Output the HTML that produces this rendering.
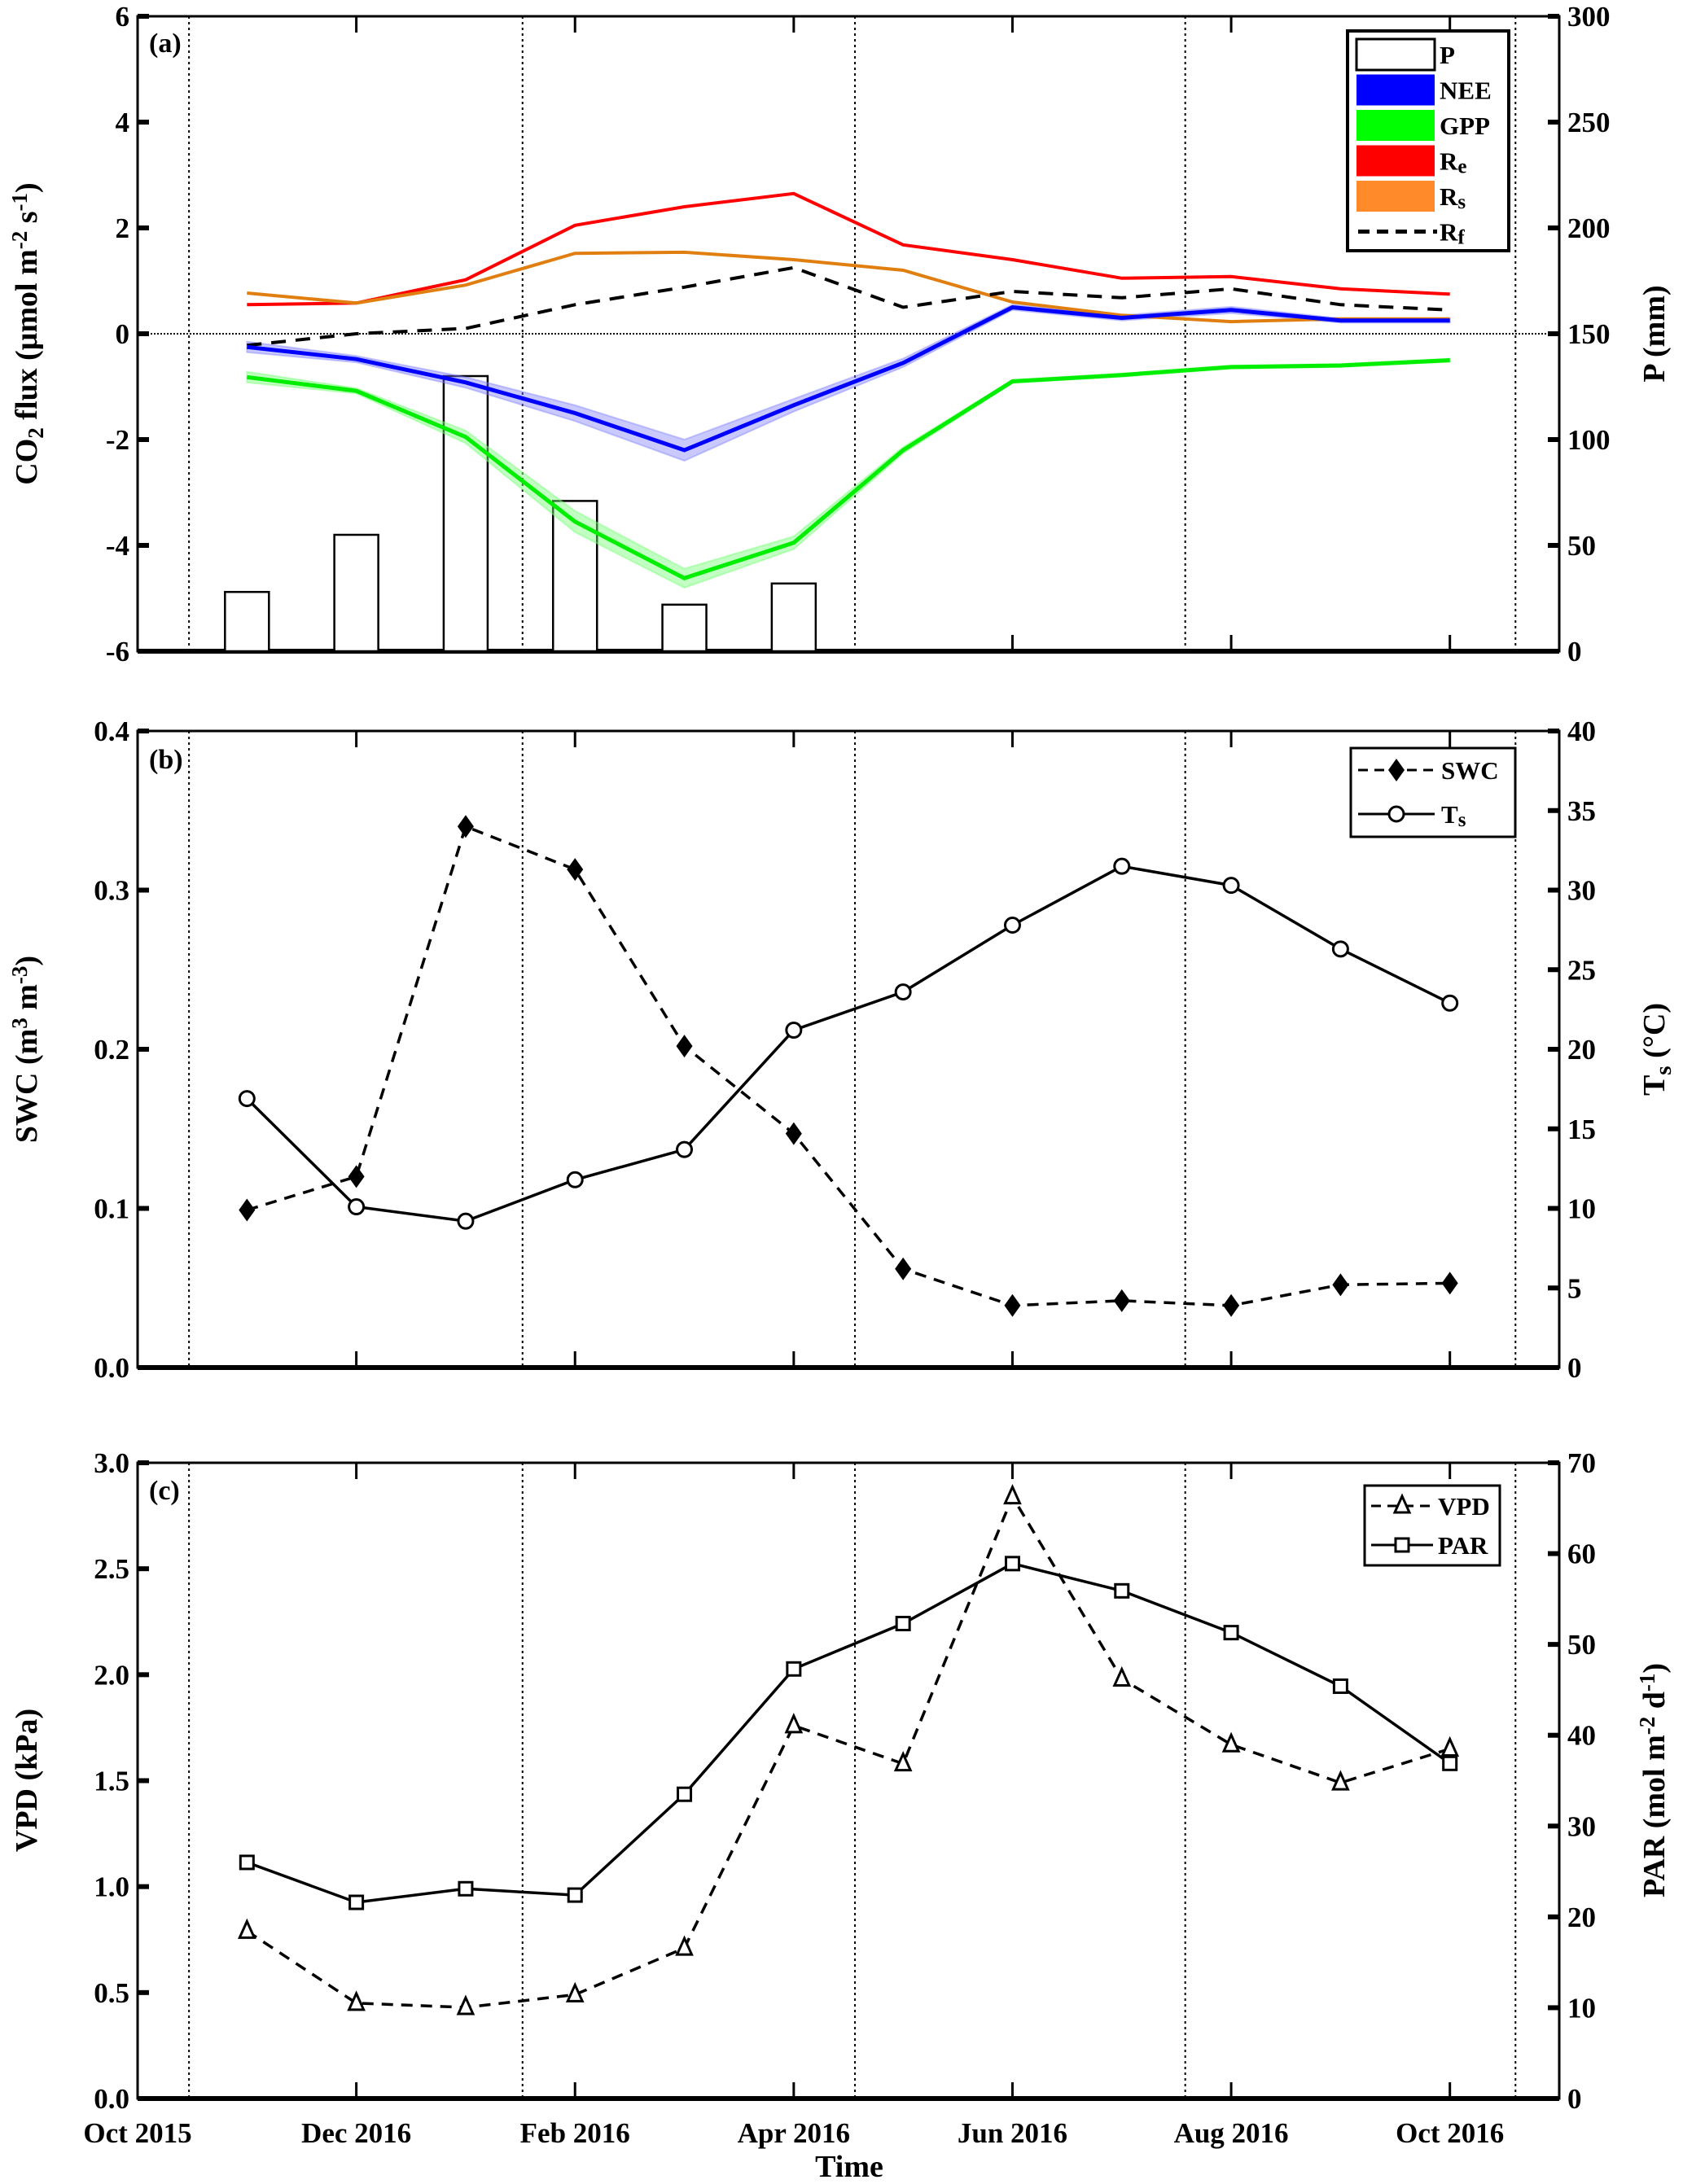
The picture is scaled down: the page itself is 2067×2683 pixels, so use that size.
<!DOCTYPE html>
<html><head><meta charset="utf-8"><style>
html,body{margin:0;padding:0;background:#fff;}
svg{display:block;font-family:"Liberation Serif",serif;}
</style></head><body>
<svg id="c" width="2067" height="2683" viewBox="0 0 2067 2683" xmlns="http://www.w3.org/2000/svg"></svg>
<script>
const months=[1,2,3,4,5,6,7,8,9,10,11,12];
const xTickMonths=[0,2,4,6,8,10,12];
const xTickLabels=["Oct 2015","Dec 2016","Feb 2016","Apr 2016","Jun 2016","Aug 2016","Oct 2016"];
const seasonLines=[0.47,3.52,6.56,9.58,12.6];
const P=[28,55,130,71,22,32];
const Re=[0.55,0.58,1.02,2.05,2.4,2.65,1.68,1.4,1.05,1.08,0.85,0.75];
const Rs=[0.77,0.58,0.92,1.52,1.54,1.4,1.2,0.6,0.35,0.23,0.28,0.28];
const Rf=[-0.22,0.0,0.1,0.55,0.88,1.25,0.5,0.8,0.68,0.85,0.55,0.45];
const NEE=[-0.25,-0.48,-0.92,-1.5,-2.2,-1.35,-0.55,0.5,0.3,0.45,0.25,0.25];
const NEEerr=[0.1,0.06,0.1,0.15,0.2,0.12,0.08,0.05,0.05,0.06,0.04,0.04];
const GPP=[-0.82,-1.08,-1.95,-3.55,-4.62,-3.95,-2.2,-0.9,-0.78,-0.63,-0.6,-0.5];
const GPPerr=[0.1,0.05,0.12,0.2,0.18,0.12,0.06,0.03,0.03,0.03,0.03,0.03];
const SWC=[0.099,0.12,0.34,0.313,0.202,0.147,0.062,0.039,0.042,0.039,0.052,0.053];
const Ts=[16.9,10.1,9.2,11.8,13.7,21.2,23.6,27.8,31.5,30.3,26.3,22.9];
const VPD=[0.79,0.45,0.43,0.49,0.71,1.76,1.58,2.84,1.98,1.67,1.49,1.65];
const PAR=[26.0,21.6,23.1,22.4,33.5,47.3,52.3,58.9,55.9,51.3,45.4,36.9];
const aLeftTicks=[-6,-4,-2,0,2,4,6];
const aRightTicks=[0,50,100,150,200,250,300];
const bLeftTicks=[0,0.1,0.2,0.3,0.4];
const bRightTicks=[0,5,10,15,20,25,30,35,40];
const cLeftTicks=[0,0.5,1,1.5,2,2.5,3];
const cRightTicks=[0,10,20,30,40,50,60,70];

const NS="http://www.w3.org/2000/svg";
const svg=document.getElementById('c');
function el(tag,attrs,parent){const e=document.createElementNS(NS,tag);for(const k in attrs)e.setAttribute(k,attrs[k]);(parent||svg).appendChild(e);return e;}
const L=169,R=1915;
const X=m=>L+m*(R-L)/13;
function mkY(top,bot,lo,hi){return v=>bot-(v-lo)/(hi-lo)*(bot-top);}
function line(vals,Y,attrs,g,name){const d=vals.map((v,i)=>(i?'L':'M')+X(months[i]).toFixed(1)+','+Y(v).toFixed(1)).join('');const p=el('path',Object.assign({d:d,fill:'none'},attrs),g);return p;}
function band(vals,err,Y,fill,g,name){let up=vals.map((v,i)=>X(months[i]).toFixed(1)+','+Y(v+err[i]).toFixed(1));let dn=vals.map((v,i)=>X(months[i]).toFixed(1)+','+Y(v-err[i]).toFixed(1)).reverse();const p=el('polygon',{points:up.concat(dn).join(' '),fill:fill,stroke:fill,'stroke-width':2},g);}
function txt(x,y,s,attrs,g){const t=el('text',Object.assign({x:x,y:y,'font-size':31,'font-weight':'bold'},attrs),g);t.textContent=s;return t;}

function panel(name,top,bot,lt,lY,rt,rY,lfmt,rfmt,showX){
  const g=el('g',{});
  seasonLines.forEach(m=>{const l=el('line',{x1:X(m),x2:X(m),y1:top,y2:bot,stroke:'#000','stroke-width':2,'stroke-dasharray':'3,4'},g);});
  el('rect',{x:L,y:top,width:R-L,height:bot-top,fill:'none',stroke:'#000','stroke-width':3},g);
  el('line',{x1:L,x2:R,y1:bot,y2:bot,stroke:'#000','stroke-width':6},g);
  xTickMonths.forEach((m,i)=>{el('line',{x1:X(m),x2:X(m),y1:bot,y2:bot-20,stroke:'#000','stroke-width':3},g);el('line',{x1:X(m),x2:X(m),y1:top,y2:top+20,stroke:'#000','stroke-width':3},g);
    if(showX){const t=txt(X(m),bot+54,xTickLabels[i],{'text-anchor':'middle','font-size':35},g);}});
  lt.forEach(v=>{const y=lY(v);el('line',{x1:L,x2:L+14,y1:y,y2:y,stroke:'#000','stroke-width':6},g);const t=txt(L-10,y+12,lfmt(v),{'text-anchor':'end','font-size':35},g);});
  rt.forEach(v=>{const y=rY(v);el('line',{x1:R-14,x2:R,y1:y,y2:y,stroke:'#000','stroke-width':6},g);const t=txt(R+10,y+12,rfmt(v),{'text-anchor':'start','font-size':35},g);});
  return g;
}
function vtitle(x,y,html,name){const t=el('text',{x:0,y:0,'font-size':38,'font-weight':'bold','text-anchor':'middle',transform:`translate(${x},${y}) rotate(-90)`});t.innerHTML=html;}

// Panel a
const aT=20,aB=800;const aY=mkY(aT,aB,-6,6),pY=mkY(aT,aB,0,300);
const ga=panel('panel-a',aT,aB,aLeftTicks,aY,aRightTicks,pY,v=>String(v),v=>String(v),false);
el('line',{x1:L,x2:R,y1:aY(0),y2:aY(0),stroke:'#000','stroke-width':2,'stroke-dasharray':'2,2'},ga);
P.forEach((v,i)=>{const bw=54;const r=el('rect',{x:X(months[i])-bw/2,y:pY(v),width:bw,height:pY(0)-pY(v),fill:'#fff',stroke:'#000','stroke-width':2.5},ga);});
band(NEE,NEEerr,aY,'rgba(120,120,255,0.4)',ga,'nee-band');
band(GPP,GPPerr,aY,'rgba(120,255,120,0.45)',ga,'gpp-band');
line(Re,aY,{stroke:'#ff0000','stroke-width':4},ga,'re-line');
line(Rs,aY,{stroke:'#e07f10','stroke-width':4},ga,'rs-line');
line(Rf,aY,{stroke:'#000','stroke-width':4,'stroke-dasharray':'18,12'},ga,'rf-line');
line(NEE,aY,{stroke:'#0000ff','stroke-width':5},ga,'nee-line');
line(GPP,aY,{stroke:'#00ee00','stroke-width':5},ga,'gpp-line');
txt(183,64,'(a)',{'font-size':34},ga);
// legend a
{const lg=el('g',{},ga);
el('rect',{x:1655,y:38,width:198,height:270,fill:'#fff',stroke:'#000','stroke-width':4},lg);
const items=[['P','#fff'],['NEE','#0000ff'],['GPP','#00ff00'],['Re','#ff0000'],['Rs','#ff8a2a'],['Rf','dash']];
items.forEach((it,i)=>{const y=48+i*43.5;
 if(it[1]==='dash'){el('line',{x1:1668,x2:1765,y1:y+19,y2:y+19,stroke:'#000','stroke-width':5,'stroke-dasharray':'14,9'},lg);}
 else el('rect',{x:1666,y:y,width:96,height:38,fill:it[1],stroke:it[1]==='#fff'?'#000':'none','stroke-width':3},lg);
 const t=el('text',{x:1768,y:y+30,'font-size':31,'font-weight':'bold'},lg);
 if(it[0].length===2&&it[0][0]==='R')t.innerHTML='R<tspan font-size="25" dy="4">'+it[0][1]+'</tspan>';else t.textContent=it[0];
 });}
vtitle(45,410,'CO<tspan font-size="27" dy="8">2</tspan><tspan dy="-8"> flux (μmol m</tspan><tspan font-size="27" dy="-12">-2</tspan><tspan dy="12"> s</tspan><tspan font-size="27" dy="-12">-1</tspan><tspan dy="12">)</tspan>','y-axis-title-co2');
vtitle(2044,410,'P (mm)','y-axis-title-p');

// Panel b
const bT=898,bB=1680;const bY=mkY(bT,bB,0,0.4),tY=mkY(bT,bB,0,40);
const gb=panel('panel-b',bT,bB,bLeftTicks,bY,bRightTicks,tY,v=>v.toFixed(1),v=>String(v),false);
line(SWC,bY,{stroke:'#000','stroke-width':3.5,'stroke-dasharray':'14,10'},gb,'swc-line');
line(Ts,tY,{stroke:'#000','stroke-width':3.5},gb,'ts-line');
SWC.forEach((v,i)=>{const x=X(months[i]),y=bY(v);const p=el('polygon',{points:`${x},${y-14} ${x+10},${y} ${x},${y+14} ${x-10},${y}`,fill:'#000'},gb);});
Ts.forEach((v,i)=>{const c=el('circle',{cx:X(months[i]),cy:tY(v),r:9,fill:'#fff',stroke:'#000','stroke-width':3},gb);});
txt(183,944,'(b)',{'font-size':34},gb);
{const lg=el('g',{},gb);
el('rect',{x:1659,y:919,width:202,height:109,fill:'#fff',stroke:'#000','stroke-width':3},lg);
el('line',{x1:1668,x2:1762,y1:946,y2:946,stroke:'#000','stroke-width':3,'stroke-dasharray':'12,8'},lg);
el('polygon',{points:'1715,932 1725,946 1715,960 1705,946',fill:'#000'},lg);
el('line',{x1:1668,x2:1762,y1:1000,y2:1000,stroke:'#000','stroke-width':3},lg);
el('circle',{cx:1715,cy:1000,r:9,fill:'#fff',stroke:'#000','stroke-width':3},lg);
const t1=el('text',{x:1770,y:957,'font-size':31,'font-weight':'bold'},lg);t1.textContent='SWC';
const t2=el('text',{x:1770,y:1011,'font-size':31,'font-weight':'bold'},lg);t2.innerHTML='T<tspan font-size="25" dy="4">s</tspan>';}
vtitle(45,1289,'SWC (m<tspan font-size="27" dy="-12">3</tspan><tspan dy="12"> m</tspan><tspan font-size="27" dy="-12">-3</tspan><tspan dy="12">)</tspan>','y-axis-title-swc');
vtitle(2044,1289,'T<tspan font-size="29" dy="8">s</tspan><tspan dy="-8"> (°C)</tspan>','y-axis-title-ts');

// Panel c
const cT=1797,cB=2578;const cY=mkY(cT,cB,0,3),rY=mkY(cT,cB,0,70);
const gc=panel('panel-c',cT,cB,cLeftTicks,cY,cRightTicks,rY,v=>v.toFixed(1),v=>String(v),true);
line(VPD,cY,{stroke:'#000','stroke-width':3.5,'stroke-dasharray':'14,10'},gc,'vpd-line');
line(PAR,rY,{stroke:'#000','stroke-width':3.5},gc,'par-line');
VPD.forEach((v,i)=>{const x=X(months[i]),y=cY(v);const p=el('polygon',{points:`${x},${y-12} ${x+9},${y+8} ${x-9},${y+8}`,fill:'#fff',stroke:'#000','stroke-width':3},gc);});
PAR.forEach((v,i)=>{const r=el('rect',{x:X(months[i])-8,y:rY(v)-8,width:16,height:16,fill:'#fff',stroke:'#000','stroke-width':3},gc);});
txt(183,1842,'(c)',{'font-size':34},gc);
{const lg=el('g',{},gc);
el('rect',{x:1676,y:1825,width:166,height:98,fill:'#fff',stroke:'#000','stroke-width':3},lg);
el('line',{x1:1684,x2:1760,y1:1850,y2:1850,stroke:'#000','stroke-width':3,'stroke-dasharray':'12,8'},lg);
el('polygon',{points:'1722,1838 1731,1858 1713,1858',fill:'#fff',stroke:'#000','stroke-width':3},lg);
el('line',{x1:1684,x2:1760,y1:1898,y2:1898,stroke:'#000','stroke-width':3},lg);
el('rect',{x:1714,y:1890,width:16,height:16,fill:'#fff',stroke:'#000','stroke-width':3},lg);
const t1=el('text',{x:1766,y:1861,'font-size':31,'font-weight':'bold'},lg);t1.textContent='VPD';
const t2=el('text',{x:1766,y:1909,'font-size':31,'font-weight':'bold'},lg);t2.textContent='PAR';}
vtitle(45,2187,'VPD (kPa)','y-axis-title-vpd');
vtitle(2044,2187,'PAR (mol m<tspan font-size="27" dy="-12">-2</tspan><tspan dy="12"> d</tspan><tspan font-size="27" dy="-12">-1</tspan><tspan dy="12">)</tspan>','y-axis-title-par');
{const t=txt(1043,2674,'Time',{'text-anchor':'middle','font-size':38});}
</script>
</body></html>
